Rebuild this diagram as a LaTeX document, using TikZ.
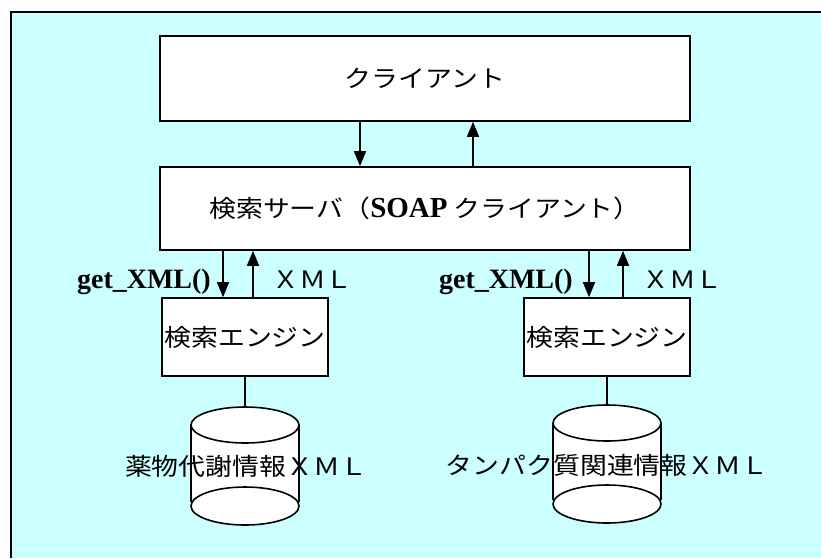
\documentclass[tikz,border=0pt]{standalone}
\usepackage{fontspec}
\setmainfont{Liberation Serif}
\newfontfamily\jpfont{Noto Sans CJK JP}
\usetikzlibrary{arrows.meta,calc}
\definecolor{bg}{HTML}{CCFFFF}
\newcommand\jt[1]{\scalebox{1.12}[1]{\jpfont #1}}
\begin{document}
\begin{tikzpicture}[x=1pt,y=-1pt,
  box/.style={draw=black, line width=1.6pt, fill=white, inner sep=0pt, font=\fontsize{24}{28}\selectfont},
  arr/.style={line width=1.4pt, -{Triangle[length=15pt,width=12pt]}},
  conn/.style={line width=1.4pt},
  dbshape/.style={draw=black, line width=1.6pt, fill=white},
  lbl/.style={inner sep=0pt, font=\fontsize{24}{28}\selectfont},
  fn/.style={inner sep=0pt, font=\fontsize{28}{30}\selectfont\bfseries}]
\useasboundingbox (0,0) rectangle (821,558);
\fill[white] (0,0) rectangle (821,558);
\fill[bg] (11,12) rectangle (821,558);
\draw[line width=2pt] (11,558) -- (11,12) -- (821,12);

% boxes
\node[box, minimum width=530pt, minimum height=85pt] (client) at (425,78.5) {\raisebox{-4pt}{\jt{クライアント}}};
\node[box, minimum width=530pt, minimum height=83pt] (server) at (425,208.5)
  {\raisebox{-1.5pt}{\jt{検索サーバ（}{\rmfamily\bfseries\fontsize{29}{30}\selectfont SOAP}\jt{ クライアント）}}};
\node[box, minimum width=166pt, minimum height=78pt] (eng1) at (245,337) {\jt{検索エンジン}};
\node[box, minimum width=166pt, minimum height=78pt] (eng2) at (607,337) {\jt{検索エンジン}};

% x positions of arrows
\coordinate (xa) at (360,0);
\coordinate (xb) at (473,0);
\coordinate (xc) at (223,0);
\coordinate (xd) at (253,0);
\coordinate (xe) at (589,0);
\coordinate (xf) at (623,0);

\draw[arr] (client.south -| xa) -- (server.north -| xa);
\draw[arr] (server.north -| xb) -- (client.south -| xb);
\draw[arr] (server.south -| xc) -- (eng1.north -| xc);
\draw[arr] (eng1.north -| xd) -- (server.south -| xd);
\draw[arr] (server.south -| xe) -- (eng2.north -| xe);
\draw[arr] (eng2.north -| xf) -- (server.south -| xf);

\node[fn, anchor=base east] (call1) at (211,288) {get\_XML()};
\node[fn, anchor=base east] (call2) at (573,288) {get\_XML()};
\node[lbl, anchor=base west] (ret1) at (272,288) {\jt{ＸＭＬ}};
\node[lbl, anchor=base west] (ret2) at (642,288) {\jt{ＸＭＬ}};

% databases
\fill[white] (191,425) rectangle (299,506);
\draw[dbshape] (245,506) ellipse [x radius=54, y radius=19];
\draw[line width=1.6pt] (191,425) -- (191,502) (299,425) -- (299,502);
\draw[dbshape] (245,425) ellipse [x radius=54, y radius=18];
\coordinate (db1) at (245,407);

\fill[white] (553,423) rectangle (661,504);
\draw[dbshape] (607,504) ellipse [x radius=54, y radius=19];
\draw[line width=1.6pt] (553,423) -- (553,500) (661,423) -- (661,500);
\draw[dbshape] (607,423) ellipse [x radius=54, y radius=18];
\coordinate (db2) at (607,405);

\draw[conn] (eng1.south) -- (db1);
\draw[conn] (eng2.south) -- (db2);

\node[lbl] (name1) at (246,466) {\jt{薬物代謝情報ＸＭＬ}};
\node[lbl] (name2) at (607,465) {\jt{タンパク質関連情報ＸＭＬ}};
\end{tikzpicture}
\end{document}
